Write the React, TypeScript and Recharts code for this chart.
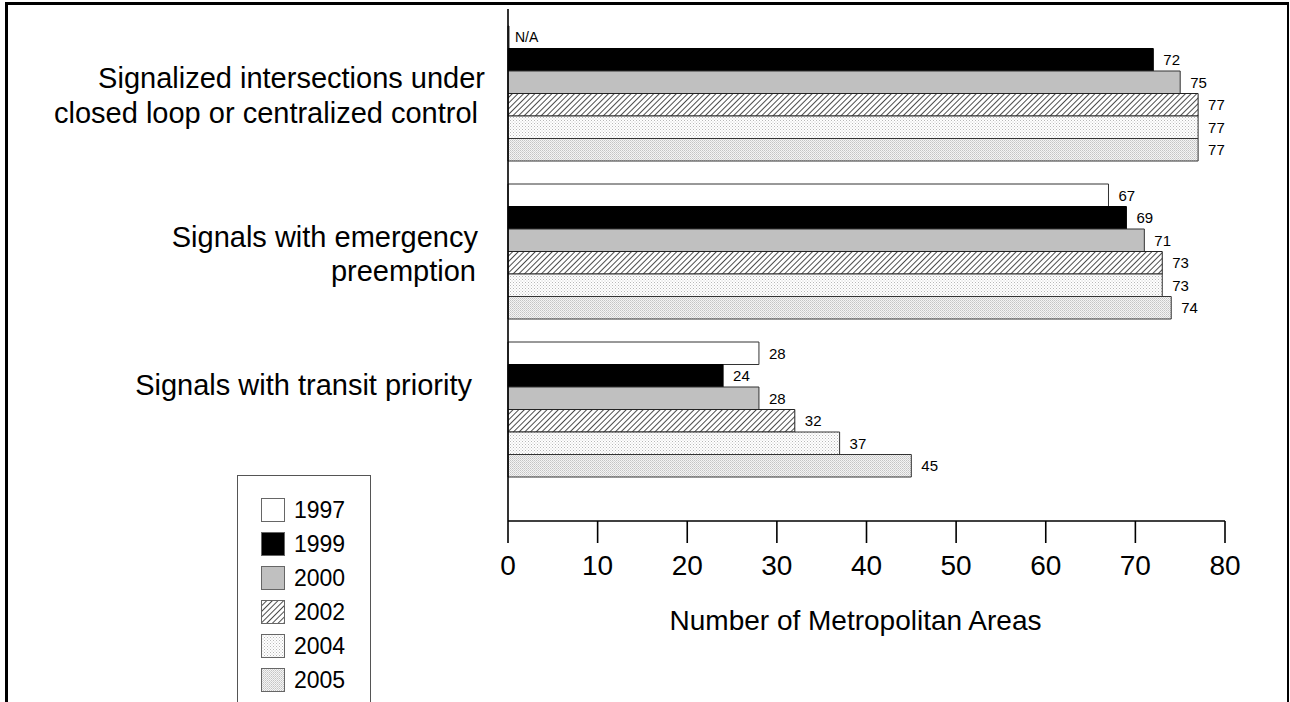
import { BarChart, Bar, XAxis, YAxis, Legend, LabelList, Label } from 'recharts';

const CATEGORIES = ['signalized', 'emergency', 'transit'];
const CATEGORY_LINES = [
  ['Signalized intersections under', 'closed loop or centralized control'],
  ['Signals with emergency', 'preemption'],
  ['Signals with transit priority'],
];
const YEARS = ['1997', '1999', '2000', '2002', '2004', '2005'];
const V1997 = [null, 67, 28];
const V1999 = [72, 69, 24];
const V2000 = [75, 71, 28];
const V2002 = [77, 73, 32];
const V2004 = [77, 73, 37];
const V2005 = [77, 74, 45];
const X_TICKS = [0, 10, 20, 30, 40, 50, 60, 70, 80];

const SERIES = [V1997, V1999, V2000, V2002, V2004, V2005];

const rows = CATEGORIES.map((name, i) => {
  const row: any = { name };
  YEARS.forEach((yr, j) => {
    row['y' + yr] = SERIES[j][i];
  });
  return row;
});

const FONT = '"Liberation Sans", Arial, sans-serif';

// fill / stroke per year
const FILLS = ['#ffffff', '#000000', '#c0c0c0', 'url(#hatch)', 'url(#dots4)', 'url(#dots5)'];
const STROKES = ['#333', '#000', '#333', '#222', '#333', '#333'];

// text placement for the category labels (right edge, baseline offset from band centre)
const LABEL_RIGHT = [[485, 478], [478, 476], [472]];
const LABEL_BASELINE = [[-5, 30], [-4.5, 29.5], [-14]];

const CategoryTick = (props: any) => {
  const { y, payload } = props;
  const i = CATEGORIES.indexOf(payload.value);
  if (i < 0) return null;
  return (
    <g>
      {CATEGORY_LINES[i].map((line, k) => (
        <text
          key={k}
          x={LABEL_RIGHT[i][k]}
          y={y + LABEL_BASELINE[i][k]}
          textAnchor="end"
          fontSize={29}
          fontFamily={FONT}
          fill="#000"
        >
          {line}
        </text>
      ))}
    </g>
  );
};

const renderValue = (props: any) => {
  const vb = props.viewBox || props;
  const x = Number(vb.x);
  const y = Number(vb.y);
  const w = Number(vb.width);
  const h = Number(vb.height);
  if (props.value === 'N/A') {
    return (
      <text x={x + 7} y={y + h / 2} dy="0.35em" fontSize={14} fontFamily={FONT} fill="#000">
        N/A
      </text>
    );
  }
  return (
    <text x={x + (isNaN(w) ? 0 : w) + 10} y={y + h / 2} dy="0.36em" fontSize={15} fontFamily={FONT} fill="#000">
      {props.value}
    </text>
  );
};

const renderTitle = (props: any) => {
  const vb = props.viewBox;
  return (
    <text
      x={vb.x + vb.width / 2 - 11}
      y={vb.y + 109}
      textAnchor="middle"
      fontSize={28}
      fontFamily={FONT}
      fill="#000"
    >
      Number of Metropolitan Areas
    </text>
  );
};

const renderLegend = () => (
  <div
    style={{
      width: 134,
      height: 240,
      border: '1px solid #555',
      boxSizing: 'border-box',
      paddingTop: 17,
      paddingLeft: 23,
      background: '#fff',
    }}
  >
    {YEARS.map((yr, j) => (
      <div key={yr} style={{ display: 'flex', alignItems: 'center', height: 34 }}>
        <svg width={24} height={24} style={{ display: 'block' }}>
          <rect x={0.5} y={0.5} width={23} height={23} fill={FILLS[j]} stroke="#666" strokeWidth={1} />
        </svg>
        <span style={{ marginLeft: 9, fontSize: 23, fontFamily: FONT, color: '#000', lineHeight: 1 }}>{yr}</span>
      </div>
    ))}
  </div>
);

export default function App() {
  return (
    <div
      style={{
        position: 'absolute',
        left: 0,
        top: 0,
        width: 1290,
        height: 702,
        overflow: 'hidden',
        background: '#fff',
        fontFamily: FONT,
      }}
    >
      <div
        style={{
          position: 'absolute',
          left: 5,
          top: 2,
          width: 1284,
          height: 720,
          borderTop: '3px solid #000',
          borderLeft: '3px solid #000',
          borderRight: '2px solid #000',
          boxSizing: 'border-box',
        }}
      />
      <div style={{ position: 'absolute', left: 0, top: 0 }}>
        <BarChart
          width={1290}
          height={702}
          data={rows}
          layout="vertical"
          margin={{ top: 9, right: 65, bottom: 0, left: 0 }}
          barGap={0}
          barSize={22.5}
        >
          <defs>
            <pattern id="hatch" patternUnits="userSpaceOnUse" width={4} height={4} patternTransform="rotate(45)">
              <rect width={4} height={4} fill="#fff" />
              <line x1={0} y1={0} x2={0} y2={4} stroke="#000" strokeWidth={1.4} />
            </pattern>
            <pattern id="dots4" patternUnits="userSpaceOnUse" width={3} height={3}>
              <rect width={3} height={3} fill="#fff" />
              <rect x={0} y={0} width={1} height={1} fill="#b8b8b8" />
              <rect x={1.5} y={1.5} width={1} height={1} fill="#c8c8c8" />
            </pattern>
            <pattern id="dots5" patternUnits="userSpaceOnUse" width={2} height={2}>
              <rect width={2} height={2} fill="#f4f4f4" />
              <rect x={0} y={0} width={1} height={1} fill="#c4c4c4" />
              <rect x={1} y={1} width={1} height={1} fill="#d4d4d4" />
            </pattern>
          </defs>
          <XAxis
            type="number"
            domain={[0, 80]}
            ticks={X_TICKS}
            interval={0}
            height={181}
            tickSize={22}
            tickMargin={12}
            axisLine={{ stroke: '#000', strokeWidth: 1.6 }}
            tickLine={{ stroke: '#000', strokeWidth: 1.6 }}
            tick={{ fontSize: 28, fill: '#000', fontFamily: FONT }}
          >
            <Label content={renderTitle} />
          </XAxis>
          <YAxis
            type="category"
            dataKey="name"
            width={508}
            padding={{ top: 5, bottom: 33 }}
            axisLine={{ stroke: '#000', strokeWidth: 1.6 }}
            tickLine={false}
            tick={<CategoryTick />}
            interval={0}
          />
          <Legend
            layout="vertical"
            align="center"
            verticalAlign="middle"
            content={renderLegend}
            wrapperStyle={{ position: 'absolute', left: 237, top: 475, width: 134 }}
          />
          {YEARS.map((yr, j) => (
            <Bar
              key={yr}
              dataKey={(r: any) => r['y' + yr] ?? 0}
              name={yr}
              fill={FILLS[j]}
              stroke={STROKES[j]}
              strokeWidth={1}
              minPointSize={(v: any) => (v === 0 ? 1 : 0)}
              isAnimationActive={false}
            >
              <LabelList
                valueAccessor={(entry: any) => entry.payload['y' + yr] ?? 'N/A'}
                content={renderValue}
              />
            </Bar>
          ))}
        </BarChart>
      </div>
    </div>
  );
}
